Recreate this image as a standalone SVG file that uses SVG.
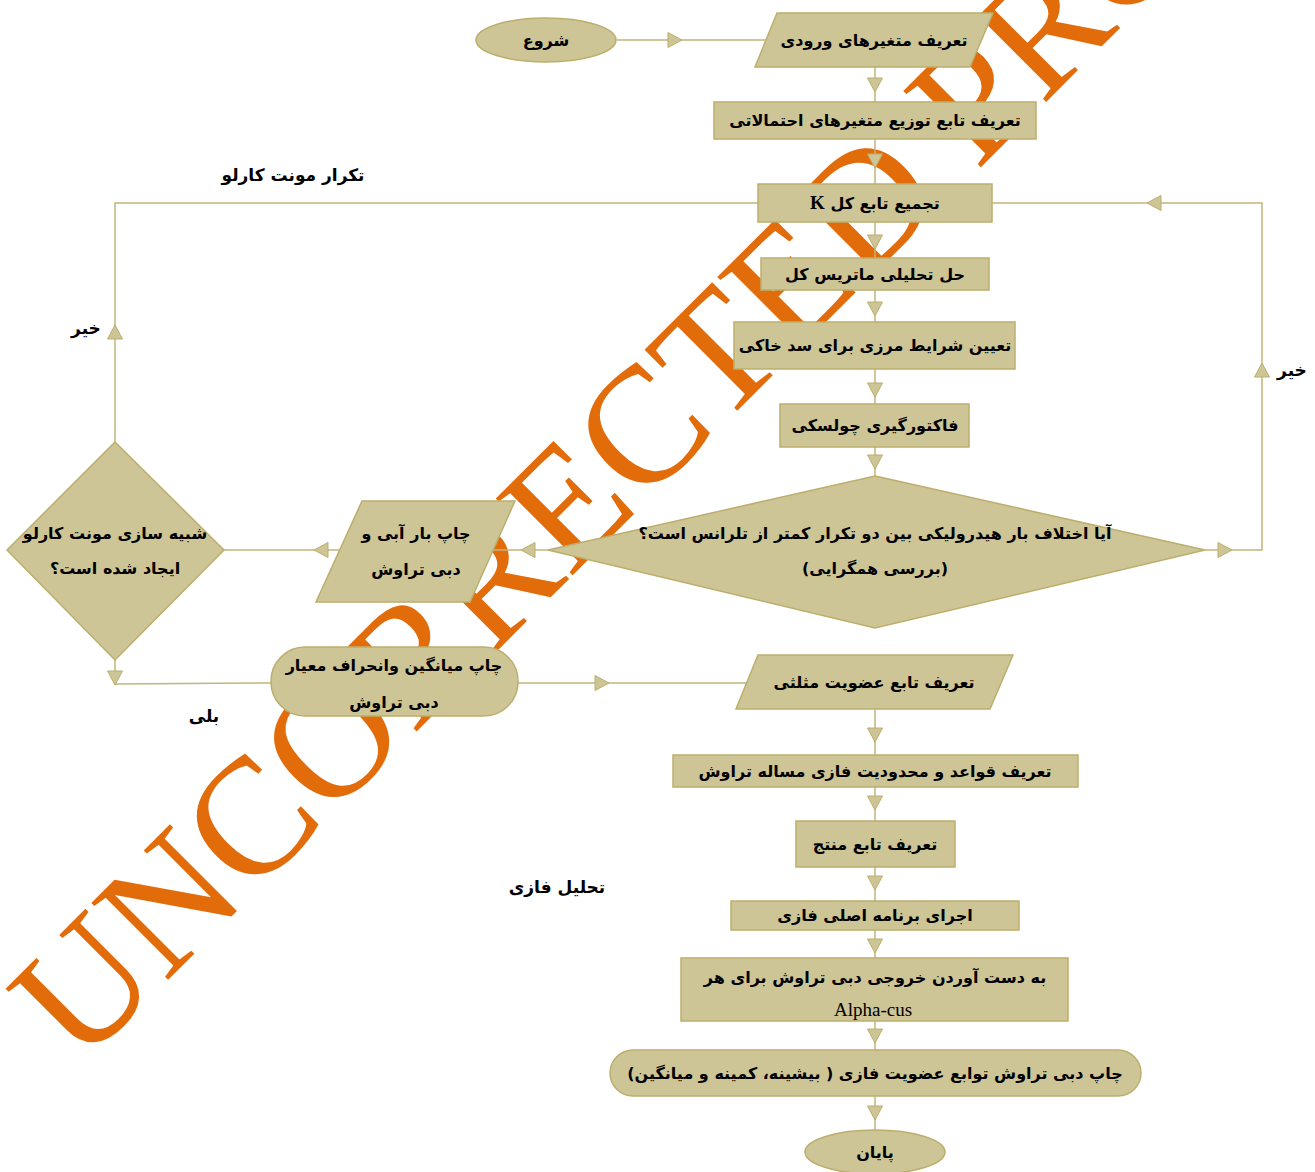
<svg xmlns="http://www.w3.org/2000/svg" width="1315" height="1172" viewBox="0 0 1315 1172">
<style>
.n{fill:#CEC596;stroke:#BCAE6C;stroke-width:1.5}
.c{fill:none;stroke:#C2B57C;stroke-width:1.5}
.a{fill:#CEC596;stroke:#BCAE6C;stroke-width:1}
.t{font-family:"DejaVu Sans",sans-serif;font-weight:bold;font-size:16px;fill:#000;text-anchor:middle;direction:rtl}
.l{font-family:"DejaVu Sans",sans-serif;font-weight:bold;font-size:17px;fill:#000;text-anchor:middle;direction:rtl}
.wm{font-family:"Liberation Serif","Times New Roman",serif;font-size:166px;fill:#E36C0A}
</style>
<defs>
<path id="ad" d="M-7.5,-7 L7.5,-7 L0,7 Z"/>
<path id="au" d="M-7.5,7 L7.5,7 L0,-7 Z"/>
<path id="ar" d="M-7,-7.5 L-7,7.5 L7,0 Z"/>
<path id="al" d="M7,-7.5 L7,7.5 L-7,0 Z"/>
</defs>
<rect width="1315" height="1172" fill="#fff"/>
<text class="wm" transform="translate(80,1068) rotate(-45)">UNCORRECTED PROOF</text>

<g id="connectors">
<path class="c" d="M617,40 H766"/>
<path class="c" d="M875,67 V102 M875,139 V184 M875,222 V258 M875,290 V322 M875,369 V404 M875,447 V476"/>
<path class="c" d="M1205,550 H1262 V203 H992"/>
<path class="c" d="M548,550 H493 M339,550 H224"/>
<path class="c" d="M115,442 V203 H758"/>
<path class="c" d="M115,660 V684 L271,683"/>
<path class="c" d="M518,683 H746"/>
<path class="c" d="M875,709 V755 M875,787 V821 M875,867 V901 M875,930 V958 M875,1021 V1050 M875,1096 V1130"/>
<g class="a">
<use href="#ar" x="675" y="40"/>
<use href="#ad" x="875" y="85"/>
<use href="#ad" x="875" y="161"/>
<use href="#ad" x="875" y="242"/>
<use href="#ad" x="875" y="309"/>
<use href="#ad" x="875" y="390"/>
<use href="#ad" x="875" y="462"/>
<use href="#ar" x="1225" y="550"/>
<use href="#au" x="1262" y="370"/>
<use href="#al" x="1154" y="203"/>
<use href="#al" x="528" y="550"/>
<use href="#al" x="321" y="550"/>
<use href="#au" x="115" y="332"/>
<use href="#ad" x="115" y="678"/>
<use href="#ar" x="602" y="683"/>
<use href="#ad" x="875" y="735"/>
<use href="#ad" x="875" y="803"/>
<use href="#ad" x="875" y="883"/>
<use href="#ad" x="875" y="946"/>
<use href="#ad" x="875" y="1036"/>
<use href="#ad" x="875" y="1113"/>
</g>
</g>

<g id="start"><ellipse class="n" cx="546" cy="40" rx="70" ry="22"/><text class="t" x="546" y="46">شروع</text></g>
<g id="input"><path class="n" d="M777,13 H993 L970,67 H755 Z"/><text class="t" x="874" y="46">تعریف متغیرهای ورودی</text></g>
<g id="dist"><rect class="n" x="714" y="102" width="322" height="37"/><text class="t" x="875" y="126">تعریف تابع توزیع متغیرهای احتمالاتی</text></g>
<g id="assemble"><rect class="n" x="758" y="184" width="234" height="38"/><text class="t" x="875" y="209">تجمیع تابع کل <tspan font-family="Liberation Serif" font-size="19"> K</tspan></text></g>
<g id="solve"><rect class="n" x="761" y="258" width="228" height="32"/><text class="t" x="875" y="280">حل تحلیلی ماتریس کل</text></g>
<g id="boundary"><rect class="n" x="734" y="322" width="281" height="47"/><text class="t" x="875" y="351">تعیین شرایط مرزی برای سد خاکی</text></g>
<g id="cholesky"><rect class="n" x="780" y="404" width="189" height="43"/><text class="t" x="875" y="431">فاکتورگیری چولسکی</text></g>
<g id="converge"><path class="n" d="M875,476 L1205,550 L875,628 L548,550 Z"/><text class="t" x="875" y="539">آیا اختلاف بار هیدرولیکی بین دو تکرار کمتر از تلرانس است؟</text><text class="t" x="875" y="574">(بررسی همگرایی)</text></g>
<g id="printhead"><path class="n" d="M362,501 H515 L470,602 H316 Z"/><text class="t" x="416" y="539">چاپ بار آبی و</text><text class="t" x="416" y="575">دبی تراوش</text></g>
<g id="mcdone"><path class="n" d="M115,442 L224,550 L115,660 L7,550 Z"/><text class="t" x="115" y="539">شبیه سازی مونت کارلو</text><text class="t" x="115" y="574">ایجاد شده است؟</text></g>
<g id="printmean"><rect class="n" x="271" y="647" width="247" height="69" rx="34"/><text class="t" x="394" y="671">چاپ میانگین وانحراف معیار</text><text class="t" x="394" y="708">دبی تراوش</text></g>
<g id="triangular"><path class="n" d="M758,655 H1013 L990,709 H736 Z"/><text class="t" x="874" y="688">تعریف تابع عضویت مثلثی</text></g>
<g id="rules"><rect class="n" x="673" y="755" width="405" height="32"/><text class="t" x="875" y="777">تعریف قواعد و محدودیت فازی مساله تراوش</text></g>
<g id="result"><rect class="n" x="796" y="821" width="159" height="46"/><text class="t" x="875" y="850">تعریف تابع منتج</text></g>
<g id="runfuzzy"><rect class="n" x="731" y="901" width="288" height="29"/><text class="t" x="875" y="921">اجرای برنامه اصلی فازی</text></g>
<g id="output"><rect class="n" x="681" y="958" width="387" height="63"/><text class="t" x="875" y="983">به دست آوردن خروجی دبی تراوش برای هر</text><text x="873" y="1016" font-family="Liberation Serif" font-size="19" text-anchor="middle">Alpha-cus</text></g>
<g id="printfuzzy"><rect class="n" x="610" y="1050" width="531" height="46" rx="23"/><text class="t" x="875" y="1079">چاپ دبی تراوش توابع عضویت فازی ( بیشینه، کمینه و میانگین)</text></g>
<g id="end"><ellipse class="n" cx="875" cy="1152" rx="70" ry="22"/><text class="t" x="875" y="1158">پایان</text></g>

<g id="labels">
<text class="l" x="293" y="181" font-size="20">تکرار مونت کارلو</text>
<text class="l" x="86" y="334">خیر</text>
<text class="l" x="1292" y="376">خیر</text>
<text class="l" x="204" y="722">بلی</text>
<text class="l" x="557" y="893" font-size="20">تحلیل فازی</text>
</g>
</svg>
